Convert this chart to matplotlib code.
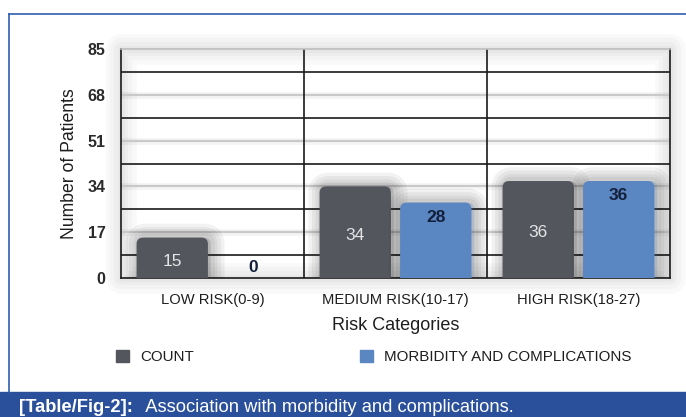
import matplotlib
matplotlib.use("Agg")
import matplotlib.pyplot as plt
import matplotlib.patheffects as pe
from matplotlib.patches import Rectangle, Patch, FancyBboxPatch
import numpy as np

plt.rcParams['font.family'] = ['Liberation Sans', 'DejaVu Sans']

categories = ["LOW RISK(0-9)", "MEDIUM RISK(10-17)", "HIGH RISK(18-27)"]
count = [15, 34, 36]
morbidity = [0, 28, 36]
series_names = ["COUNT", "MORBIDITY AND COMPLICATIONS"]
yticks = [0, 17, 34, 51, 68, 85]
xlabel = "Risk Categories"
ylabel = "Number of Patients"
caption_bold = "[Table/Fig-2]:"
caption_rest = "  Association with morbidity and complications."

c_count = "#53565d"
c_morb = "#5a86c2"
band_col = "#2a4f9b"
frame_col = "#2f5fae"
txt = "#1e1e1e"

W, H = 686, 417
fig = plt.figure(figsize=(W/100, H/100), dpi=100)
fig.patch.set_facecolor("white")

# frame lines and caption band
fig.add_artist(plt.Line2D([9/W, 1], [1-14/H, 1-14/H], color=frame_col, lw=1.2, transform=fig.transFigure))
fig.add_artist(plt.Line2D([9/W, 9/W], [1-14/H, 1-392/H], color=frame_col, lw=1.2, transform=fig.transFigure))
fig.add_artist(Rectangle((0, 0), 1, (H-392)/H, transform=fig.transFigure, color=band_col, zorder=0))
t1 = fig.text(19/W, 1-407/H, caption_bold, color="white", fontsize=13.2, fontweight="bold", va="center", ha="left")
fig.canvas.draw()
bb = t1.get_window_extent()
fig.text((bb.x1 + 3)/W, 1-407/H, caption_rest, color="white", fontsize=13.2, va="center", ha="left")

left, right, top, bottom = 121, 670, 49, 278
ax = fig.add_axes([left/W, 1-bottom/H, (right-left)/W, (bottom-top)/H])
# soft shadow round the plot area
frame_shadow = [pe.Stroke(linewidth=w, foreground="black", alpha=0.025, joinstyle="round") for w in (22, 16, 10, 5)]
ax.add_patch(Rectangle((0, 0), 1, 1, transform=ax.transAxes, fill=False, lw=0,
                       path_effects=frame_shadow, clip_on=False, zorder=0))

x = np.arange(len(categories))
ax.set_xlim(-0.5, len(categories)-0.5)
ax.set_ylim(0, 85)

# gridlines
for v in yticks[1:-1]:
    ax.axhline(v, color="#c9c9c9", lw=1.6, zorder=1,
               path_effects=[pe.Stroke(linewidth=5, foreground="#000000", alpha=0.04), pe.Normal()])
for v in np.array(yticks[:-1]) + 8.5:
    ax.axhline(v, color="#1a1a1a", lw=1.2, zorder=1)
for v in x[:-1] + 0.5:
    ax.axvline(v, color="#1a1a1a", lw=1.2, zorder=1)

off, bw = 0.22, 0.39
b1 = ax.bar(x - off, count, bw, color=c_count, zorder=3, linewidth=0)
b2 = ax.bar(x + off, morbidity, bw, color=c_morb, zorder=3, linewidth=0)

# rounded tops with soft shadow
px_x = (right - left) / 3.0
px_y = (bottom - top) / 85.0
r = 6.5 / px_x
aspect = (6.5 / px_y) / r
shadow = [pe.Stroke(linewidth=w, foreground="black", alpha=0.05, offset=(2, 0), joinstyle="round")
          for w in (20, 15, 10, 6)] + [pe.Normal()]
for bars, col in ((b1, c_count), (b2, c_morb)):
    for rect in bars:
        h = rect.get_height()
        rect.set_visible(False)
        if h <= 0:
            continue
        ext = 6.0
        fb = FancyBboxPatch((rect.get_x(), -ext), rect.get_width(), h + ext,
                            boxstyle=f"round,pad=0,rounding_size={r}", mutation_aspect=aspect,
                            facecolor=col, edgecolor="none", zorder=3, path_effects=shadow)
        ax.add_patch(fb)

for xi, v in zip(x - off, count):
    ax.text(xi, v/2 - 1.2, str(v), ha="center", va="center", color="#e4e4e4", fontsize=12.5, zorder=5)
for xi, v in zip(x + off, morbidity):
    if v > 8:
        ax.text(xi, v - 2.6, str(v), ha="center", va="top", color="#14203a", fontsize=12.5, fontweight="bold", zorder=5)
    else:
        ax.text(xi, v + 1.0, str(v), ha="center", va="bottom", color="#14203a", fontsize=12.5, fontweight="bold", zorder=5)

for s in ["left", "right", "bottom"]:
    ax.spines[s].set_color("#1a1a1a")
    ax.spines[s].set_linewidth(1.2)
ax.spines["top"].set_color("#bdbdbd")
ax.spines["top"].set_linewidth(1.2)

ax.set_yticks(yticks)
ax.set_yticklabels([str(v) for v in yticks], fontsize=11.5, color="#2a2a2a", fontweight="bold")
ax.set_xticks(x)
ax.set_xticklabels(categories, fontsize=10.6, color=txt)
ax.tick_params(axis="both", length=0)
ax.tick_params(axis="y", pad=11)
ax.tick_params(axis="x", pad=11)
ax.set_xlabel(xlabel, fontsize=13, color=txt, labelpad=7)
ax.set_ylabel(ylabel, fontsize=12.7, color=txt, labelpad=7)

handles = [Patch(color=c_count, label=series_names[0]), Patch(color=c_morb, label=series_names[1])]
fig.legend(handles=handles, ncol=2, loc="center left", bbox_to_anchor=(116/W, 1-357/H),
           frameon=False, fontsize=10.9, handlelength=0.86, handleheight=0.86,
           handletextpad=0.73, columnspacing=11.0, borderpad=0, borderaxespad=0, labelcolor=txt)

fig.savefig("out.png", dpi=100)
